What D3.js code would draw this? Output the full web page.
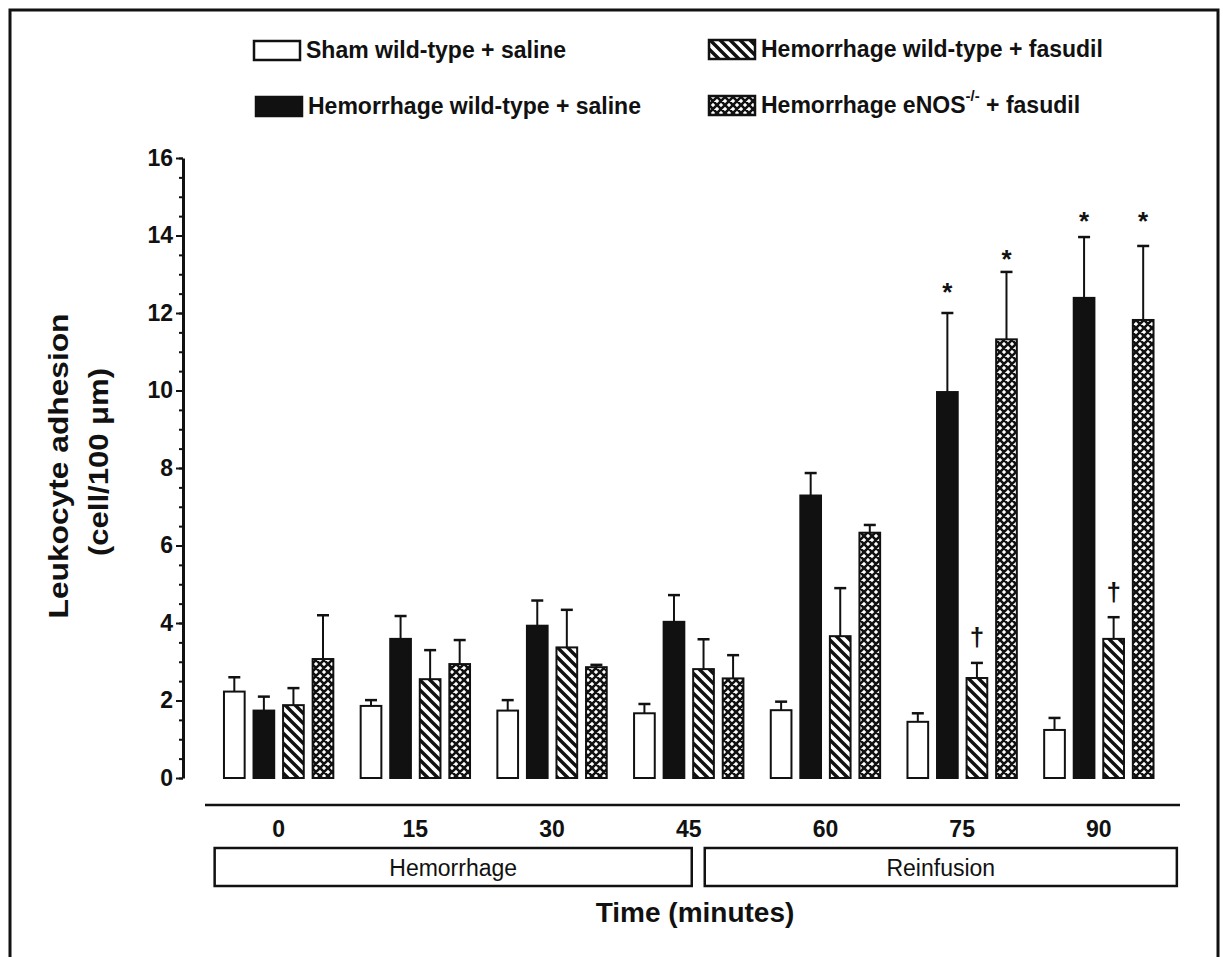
<!DOCTYPE html>
<html>
<head>
<meta charset="utf-8">
<script src="https://cdn.jsdelivr.net/npm/d3@7"></script>
<style>
  body { margin: 0; background: #fff; }
  text { font-family: "Liberation Sans", Arial, sans-serif; fill: #111; }
</style>
</head>
<body>
<div id="chart"></div>
<script>
// time points (minutes)
const groups = ["0", "15", "30", "45", "60", "75", "90"];
const seriesNames = [
    "Sham wild-type + saline",
    "Hemorrhage wild-type + saline",
    "Hemorrhage wild-type + fasudil",
    "Hemorrhage eNOS-/- + fasudil"
];
// means and SEM
const shamMean = [2.23, 1.86, 1.74, 1.67, 1.75, 1.45, 1.24];
const shamSem = [0.37, 0.15, 0.27, 0.24, 0.22, 0.22, 0.31];
const hemSalineMean = [1.74, 3.59, 3.93, 4.03, 7.29, 9.96, 12.39];
const hemSalineSem = [0.36, 0.59, 0.65, 0.69, 0.58, 2.04, 1.57];
const hemFasudilMean = [1.88, 2.55, 3.37, 2.81, 3.66, 2.58, 3.59];
const hemFasudilSem = [0.44, 0.75, 0.97, 0.77, 1.24, 0.39, 0.56];
const enosMean = [3.07, 2.94, 2.86, 2.57, 6.33, 11.32, 11.82];
const enosSem = [1.13, 0.62, 0.06, 0.60, 0.20, 1.74, 1.91];
const yTicks = [0, 2, 4, 6, 8, 10, 12, 14, 16];
// significance marks: group, series index, level (data units)
const marks = [
    { group: "75", s: 1, sym: "*", level: 12.65 },
    { group: "75", s: 3, sym: "*", level: 13.5 },
    { group: "90", s: 1, sym: "*", level: 14.48 },
    { group: "90", s: 3, sym: "*", level: 14.48 },
    { group: "75", s: 2, sym: "\u2020", level: 3.61 },
    { group: "90", s: 2, sym: "\u2020", level: 4.77 }
];
const phases = [
    { name: "Hemorrhage", start: 0, end: 45 },
    { name: "Reinfusion", start: 45, end: 90 }
];

const means = [shamMean, hemSalineMean, hemFasudilMean, enosMean];
const sems = [shamSem, hemSalineSem, hemFasudilSem, enosSem];

const svgWidth = 1223, svgHeight = 957;
const svg = d3.select("#chart").append("svg")
    .attr("width", svgWidth)
    .attr("height", svgHeight);
svg.append("rect").attr("width", svgWidth).attr("height", svgHeight).attr("fill", "#fff");

// patterns
const defs = svg.append("defs");
const hatch = defs.append("pattern")
    .attr("id", "hatch")
    .attr("patternUnits", "userSpaceOnUse")
    .attr("width", 10).attr("height", 10);
hatch.append("rect").attr("width", 10).attr("height", 10).attr("fill", "#fff");
hatch.append("path")
    .attr("d", "M-3,-3 L13,13 M-3,7 L3,13 M7,-3 L13,3")
    .attr("stroke", "#111").attr("stroke-width", 3.4);

const cross = defs.append("pattern")
    .attr("id", "cross")
    .attr("patternUnits", "userSpaceOnUse")
    .attr("width", 8).attr("height", 8);
cross.append("rect").attr("width", 8).attr("height", 8).attr("fill", "#fff");
cross.append("path")
    .attr("d", "M-2,-2 L10,10 M-2,6 L2,10 M6,-2 L10,2 M10,-2 L-2,10 M2,-2 L-2,2 M10,6 L6,10")
    .attr("stroke", "#111").attr("stroke-width", 2.6);

const fills = ["#fff", "#111", "url(#hatch)", "url(#cross)"];

// frame
svg.append("rect")
    .attr("x", 10).attr("y", 10)
    .attr("width", 1208).attr("height", 1000)
    .attr("fill", "none").attr("stroke", "#111").attr("stroke-width", 3);

// scales
const x0 = d3.scaleBand()
    .domain(groups)
    .range([210.3, 1167.2])
    .paddingInner(0.2)
    .paddingOuter(0.1);
const x1 = d3.scaleBand()
    .domain(d3.range(4))
    .range([0, x0.bandwidth()])
    .paddingInner(0.3);
const y = d3.scaleLinear().domain([0, 16]).range([778, 158]);
const tx = d3.scaleLinear()
    .domain([0, 90])
    .range([x0("0") + x0.bandwidth() / 2, x0("90") + x0.bandwidth() / 2]);

// y axis
const axisX = 183;
svg.append("g")
    .attr("transform", `translate(${axisX},0)`)
    .call(d3.axisLeft(y).tickValues(d3.range(0, 16.01, 0.5)).tickSize(4).tickFormat(""))
    .call(g => g.selectAll("line").attr("stroke", "#111").attr("stroke-width", 2))
    .call(g => g.select(".domain").remove());
const yAxis = svg.append("g")
    .attr("transform", `translate(${axisX},0)`)
    .call(d3.axisLeft(y).tickValues(yTicks).tickSize(7).tickPadding(3).tickSizeOuter(0));
yAxis.select(".domain").attr("stroke", "#111").attr("stroke-width", 3);
yAxis.selectAll(".tick line").attr("stroke", "#111").attr("stroke-width", 2);
yAxis.selectAll(".tick text")
    .attr("font-size", 23).attr("font-weight", "bold")
    .style("font-family", "'Liberation Sans', Arial, sans-serif")
    .attr("fill", "#111");

// y title
svg.append("text")
    .attr("transform", `translate(68,${466}) rotate(-90)`)
    .attr("text-anchor", "middle")
    .attr("font-size", 28).attr("font-weight", "bold")
    .attr("textLength", 305).attr("lengthAdjust", "spacingAndGlyphs")
    .text("Leukocyte adhesion");
svg.append("text")
    .attr("transform", `translate(108,${462}) rotate(-90)`)
    .attr("text-anchor", "middle")
    .attr("font-size", 28).attr("font-weight", "bold")
    .attr("textLength", 188).attr("lengthAdjust", "spacingAndGlyphs")
    .text("(cell/100 \u03bcm)");

// bars
const rows = [];
groups.forEach((g, gi) => {
    for (let s = 0; s < 4; s++) {
        rows.push({ group: g, s: s, mean: means[s][gi], sem: sems[s][gi] });
    }
});

const barG = svg.append("g");
// error bars first so the bar outline covers the base
barG.selectAll("line.err")
    .data(rows)
    .join("line")
    .attr("class", "err")
    .attr("x1", d => x0(d.group) + x1(d.s) + x1.bandwidth() / 2)
    .attr("x2", d => x0(d.group) + x1(d.s) + x1.bandwidth() / 2)
    .attr("y1", d => y(d.mean))
    .attr("y2", d => y(d.mean + d.sem))
    .attr("stroke", "#111").attr("stroke-width", 2);
barG.selectAll("line.cap")
    .data(rows)
    .join("line")
    .attr("class", "cap")
    .attr("x1", d => x0(d.group) + x1(d.s) + x1.bandwidth() / 2 - 6)
    .attr("x2", d => x0(d.group) + x1(d.s) + x1.bandwidth() / 2 + 6)
    .attr("y1", d => y(d.mean + d.sem))
    .attr("y2", d => y(d.mean + d.sem))
    .attr("stroke", "#111").attr("stroke-width", 2.5);
barG.selectAll("rect")
    .data(rows)
    .join("rect")
    .attr("x", d => x0(d.group) + x1(d.s))
    .attr("y", d => y(d.mean))
    .attr("width", x1.bandwidth())
    .attr("height", d => y(0) - y(d.mean))
    .attr("fill", d => fills[d.s])
    .attr("stroke", "#111").attr("stroke-width", 2);

// significance marks
svg.selectAll("text.mark")
    .data(marks)
    .join("text")
    .attr("class", "mark")
    .attr("x", d => x0(d.group) + x1(d.s) + x1.bandwidth() / 2)
    .attr("y", d => y(d.level) + (d.sym === "*" ? 13 : 8))
    .attr("text-anchor", "middle")
    .attr("font-size", d => d.sym === "*" ? 26 : 26)
    .attr("font-weight", "bold")
    .text(d => d.sym);

// x axis
svg.append("line")
    .attr("x1", 205).attr("x2", 1180)
    .attr("y1", 805).attr("y2", 805)
    .attr("stroke", "#111").attr("stroke-width", 2.5);
const xAxis = svg.append("g")
    .attr("transform", "translate(0,805)")
    .call(d3.axisBottom(x0).tickSize(0).tickPadding(16));
xAxis.select(".domain").remove();
xAxis.selectAll(".tick text")
    .attr("font-size", 23).attr("font-weight", "bold")
    .style("font-family", "'Liberation Sans', Arial, sans-serif")
    .attr("fill", "#111");

// phase boxes
const phaseG = svg.selectAll("g.phase")
    .data(phases)
    .join("g")
    .attr("class", "phase");
const boxX0 = d => d.start === 0 ? tx(d.start) - 64 : tx(d.start) + 16;
const boxX1 = d => d.end === 90 ? tx(d.end) + 78 : tx(d.end) + 3;
phaseG.append("rect")
    .attr("x", boxX0)
    .attr("y", 848)
    .attr("width", d => boxX1(d) - boxX0(d))
    .attr("height", 38)
    .attr("fill", "none").attr("stroke", "#111").attr("stroke-width", 2.5);
phaseG.append("text")
    .attr("x", d => (boxX0(d) + boxX1(d)) / 2)
    .attr("y", 876)
    .attr("text-anchor", "middle")
    .attr("font-size", 23)
    .text(d => d.name);

svg.append("text")
    .attr("x", 695).attr("y", 922)
    .attr("text-anchor", "middle")
    .attr("font-size", 28).attr("font-weight", "bold")
    .text("Time (minutes)");

// legend
const legendPos = [
    { bx: 254, ty: 50 },
    { bx: 256, ty: 106 },
    { bx: 709, ty: 49 },
    { bx: 709, ty: 105 }
];
const legend = svg.selectAll("g.legend")
    .data(seriesNames)
    .join("g")
    .attr("class", "legend")
    .attr("transform", (d, i) => `translate(${legendPos[i].bx},${legendPos[i].ty})`);
legend.append("rect")
    .attr("x", 0).attr("y", -9)
    .attr("width", 46).attr("height", 19)
    .attr("fill", (d, i) => fills[i])
    .attr("stroke", "#111").attr("stroke-width", 2.5);
legend.append("text")
    .attr("x", 52).attr("y", 8)
    .attr("font-size", 23).attr("font-weight", "bold")
    .each(function (d) {
        const t = d3.select(this);
        if (d.includes("-/-")) {
            const parts = d.split("-/-");
            t.append("tspan").text(parts[0]);
            t.append("tspan").attr("dy", -12).attr("font-size", 15).text("-/-");
            t.append("tspan").attr("dy", 12).text(parts[1]);
        } else {
            t.text(d);
        }
    });
</script>
</body>
</html>
